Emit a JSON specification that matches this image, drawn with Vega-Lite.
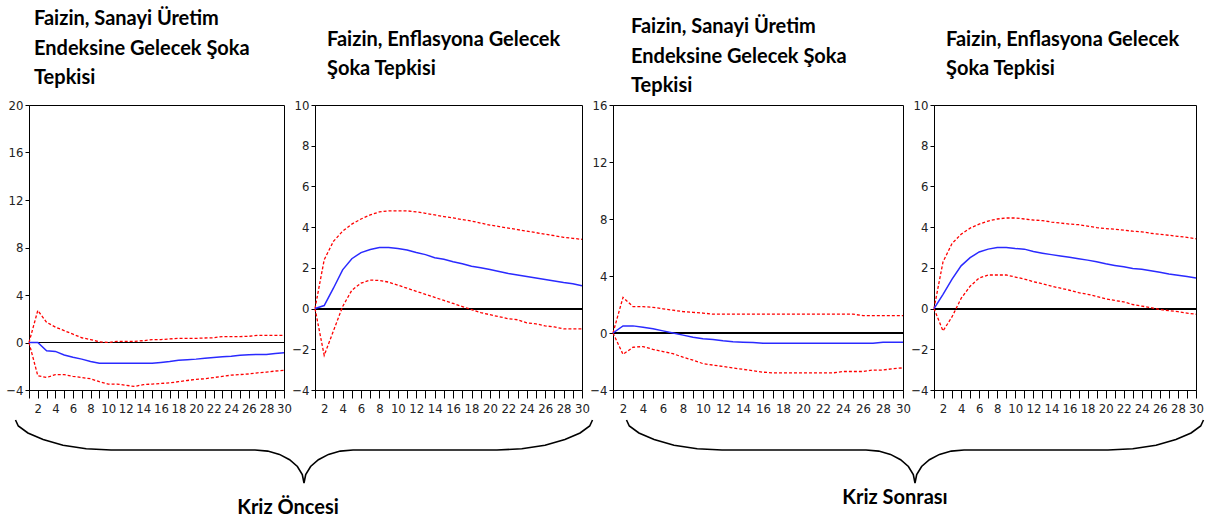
{
  "$schema": "https://vega.github.io/schema/vega-lite/v6.json",
  "padding": {"left": 5, "top": 8, "right": 0, "bottom": 0},
  "background": "white",
  "datasets": {
    "irf": [
      {"p":1,"h":1,"irf":0,"lo":0,"up":0},{"p":1,"h":2,"irf":0,"lo":-2.8,"up":2.7},{"p":1,"h":3,"irf":-0.7,"lo":-2.95,"up":1.7},{"p":1,"h":4,"irf":-0.75,"lo":-2.7,"up":1.3},{"p":1,"h":5,"irf":-1.05,"lo":-2.7,"up":1.0},{"p":1,"h":6,"irf":-1.25,"lo":-2.85,"up":0.7},{"p":1,"h":7,"irf":-1.4,"lo":-2.95,"up":0.4},{"p":1,"h":8,"irf":-1.6,"lo":-3.05,"up":0.25},{"p":1,"h":9,"irf":-1.75,"lo":-3.3,"up":0.05},{"p":1,"h":10,"irf":-1.75,"lo":-3.5,"up":0.0},
      {"p":1,"h":11,"irf":-1.75,"lo":-3.5,"up":0.1},{"p":1,"h":12,"irf":-1.75,"lo":-3.6,"up":0.1},{"p":1,"h":13,"irf":-1.75,"lo":-3.7,"up":0.1},{"p":1,"h":14,"irf":-1.75,"lo":-3.55,"up":0.15},{"p":1,"h":15,"irf":-1.75,"lo":-3.5,"up":0.25},{"p":1,"h":16,"irf":-1.68,"lo":-3.45,"up":0.25},{"p":1,"h":17,"irf":-1.6,"lo":-3.4,"up":0.3},{"p":1,"h":18,"irf":-1.5,"lo":-3.3,"up":0.35},{"p":1,"h":19,"irf":-1.45,"lo":-3.2,"up":0.35},{"p":1,"h":20,"irf":-1.4,"lo":-3.1,"up":0.35},
      {"p":1,"h":21,"irf":-1.33,"lo":-3.05,"up":0.38},{"p":1,"h":22,"irf":-1.27,"lo":-2.95,"up":0.4},{"p":1,"h":23,"irf":-1.2,"lo":-2.85,"up":0.5},{"p":1,"h":24,"irf":-1.15,"lo":-2.75,"up":0.5},{"p":1,"h":25,"irf":-1.08,"lo":-2.7,"up":0.5},{"p":1,"h":26,"irf":-1.03,"lo":-2.65,"up":0.52},{"p":1,"h":27,"irf":-1.0,"lo":-2.55,"up":0.6},{"p":1,"h":28,"irf":-1.0,"lo":-2.5,"up":0.6},{"p":1,"h":29,"irf":-0.92,"lo":-2.4,"up":0.6},{"p":1,"h":30,"irf":-0.87,"lo":-2.35,"up":0.6},
      {"p":2,"h":1,"irf":0,"lo":0,"up":0},{"p":2,"h":2,"irf":0.15,"lo":-2.3,"up":2.4},{"p":2,"h":3,"irf":1.0,"lo":-1.1,"up":3.3},{"p":2,"h":4,"irf":1.9,"lo":0.1,"up":3.8},{"p":2,"h":5,"irf":2.45,"lo":0.9,"up":4.15},{"p":2,"h":6,"irf":2.75,"lo":1.25,"up":4.4},{"p":2,"h":7,"irf":2.9,"lo":1.4,"up":4.6},{"p":2,"h":8,"irf":3.0,"lo":1.38,"up":4.75},{"p":2,"h":9,"irf":3.0,"lo":1.3,"up":4.8},{"p":2,"h":10,"irf":2.95,"lo":1.15,"up":4.8},
      {"p":2,"h":11,"irf":2.88,"lo":1.0,"up":4.8},{"p":2,"h":12,"irf":2.75,"lo":0.85,"up":4.75},{"p":2,"h":13,"irf":2.65,"lo":0.7,"up":4.68},{"p":2,"h":14,"irf":2.5,"lo":0.55,"up":4.6},{"p":2,"h":15,"irf":2.42,"lo":0.4,"up":4.52},{"p":2,"h":16,"irf":2.3,"lo":0.25,"up":4.45},{"p":2,"h":17,"irf":2.2,"lo":0.1,"up":4.37},{"p":2,"h":18,"irf":2.08,"lo":-0.05,"up":4.3},{"p":2,"h":19,"irf":2.0,"lo":-0.2,"up":4.2},{"p":2,"h":20,"irf":1.92,"lo":-0.3,"up":4.1},
      {"p":2,"h":21,"irf":1.82,"lo":-0.4,"up":4.03},{"p":2,"h":22,"irf":1.72,"lo":-0.5,"up":3.95},{"p":2,"h":23,"irf":1.65,"lo":-0.55,"up":3.88},{"p":2,"h":24,"irf":1.57,"lo":-0.7,"up":3.8},{"p":2,"h":25,"irf":1.5,"lo":-0.75,"up":3.73},{"p":2,"h":26,"irf":1.43,"lo":-0.85,"up":3.65},{"p":2,"h":27,"irf":1.36,"lo":-0.9,"up":3.58},{"p":2,"h":28,"irf":1.28,"lo":-1.0,"up":3.5},{"p":2,"h":29,"irf":1.22,"lo":-1.0,"up":3.45},{"p":2,"h":30,"irf":1.12,"lo":-1.0,"up":3.4},
      {"p":3,"h":1,"irf":0,"lo":0,"up":0},{"p":3,"h":2,"irf":0.5,"lo":-1.5,"up":2.5},{"p":3,"h":3,"irf":0.5,"lo":-1.0,"up":1.85},{"p":3,"h":4,"irf":0.4,"lo":-0.95,"up":1.85},{"p":3,"h":5,"irf":0.3,"lo":-1.15,"up":1.8},{"p":3,"h":6,"irf":0.15,"lo":-1.3,"up":1.7},{"p":3,"h":7,"irf":0.0,"lo":-1.45,"up":1.6},{"p":3,"h":8,"irf":-0.15,"lo":-1.7,"up":1.5},{"p":3,"h":9,"irf":-0.3,"lo":-1.9,"up":1.45},{"p":3,"h":10,"irf":-0.4,"lo":-2.15,"up":1.4},
      {"p":3,"h":11,"irf":-0.45,"lo":-2.25,"up":1.32},{"p":3,"h":12,"irf":-0.55,"lo":-2.35,"up":1.32},{"p":3,"h":13,"irf":-0.62,"lo":-2.45,"up":1.32},{"p":3,"h":14,"irf":-0.65,"lo":-2.55,"up":1.32},{"p":3,"h":15,"irf":-0.67,"lo":-2.65,"up":1.32},{"p":3,"h":16,"irf":-0.72,"lo":-2.75,"up":1.32},{"p":3,"h":17,"irf":-0.72,"lo":-2.8,"up":1.32},{"p":3,"h":18,"irf":-0.72,"lo":-2.8,"up":1.32},{"p":3,"h":19,"irf":-0.72,"lo":-2.8,"up":1.32},{"p":3,"h":20,"irf":-0.72,"lo":-2.8,"up":1.32},
      {"p":3,"h":21,"irf":-0.72,"lo":-2.8,"up":1.32},{"p":3,"h":22,"irf":-0.72,"lo":-2.8,"up":1.32},{"p":3,"h":23,"irf":-0.72,"lo":-2.8,"up":1.32},{"p":3,"h":24,"irf":-0.72,"lo":-2.7,"up":1.32},{"p":3,"h":25,"irf":-0.72,"lo":-2.7,"up":1.32},{"p":3,"h":26,"irf":-0.72,"lo":-2.7,"up":1.22},{"p":3,"h":27,"irf":-0.72,"lo":-2.6,"up":1.22},{"p":3,"h":28,"irf":-0.65,"lo":-2.6,"up":1.22},{"p":3,"h":29,"irf":-0.65,"lo":-2.5,"up":1.22},{"p":3,"h":30,"irf":-0.65,"lo":-2.45,"up":1.22},
      {"p":4,"h":1,"irf":0,"lo":0,"up":0},{"p":4,"h":2,"irf":0.7,"lo":-1.1,"up":2.3},{"p":4,"h":3,"irf":1.45,"lo":-0.4,"up":3.2},{"p":4,"h":4,"irf":2.1,"lo":0.5,"up":3.65},{"p":4,"h":5,"irf":2.5,"lo":1.1,"up":3.95},{"p":4,"h":6,"irf":2.78,"lo":1.5,"up":4.15},{"p":4,"h":7,"irf":2.92,"lo":1.65,"up":4.3},{"p":4,"h":8,"irf":3.0,"lo":1.65,"up":4.4},{"p":4,"h":9,"irf":3.0,"lo":1.65,"up":4.45},{"p":4,"h":10,"irf":2.95,"lo":1.55,"up":4.45},
      {"p":4,"h":11,"irf":2.92,"lo":1.45,"up":4.4},{"p":4,"h":12,"irf":2.8,"lo":1.32,"up":4.35},{"p":4,"h":13,"irf":2.72,"lo":1.22,"up":4.32},{"p":4,"h":14,"irf":2.65,"lo":1.1,"up":4.25},{"p":4,"h":15,"irf":2.58,"lo":1.0,"up":4.2},{"p":4,"h":16,"irf":2.52,"lo":0.9,"up":4.15},{"p":4,"h":17,"irf":2.45,"lo":0.78,"up":4.12},{"p":4,"h":18,"irf":2.38,"lo":0.7,"up":4.05},{"p":4,"h":19,"irf":2.3,"lo":0.6,"up":3.98},{"p":4,"h":20,"irf":2.2,"lo":0.48,"up":3.93},
      {"p":4,"h":21,"irf":2.12,"lo":0.4,"up":3.9},{"p":4,"h":22,"irf":2.05,"lo":0.33,"up":3.85},{"p":4,"h":23,"irf":1.97,"lo":0.2,"up":3.8},{"p":4,"h":24,"irf":1.93,"lo":0.12,"up":3.77},{"p":4,"h":25,"irf":1.86,"lo":0.05,"up":3.7},{"p":4,"h":26,"irf":1.78,"lo":-0.05,"up":3.65},{"p":4,"h":27,"irf":1.7,"lo":-0.1,"up":3.6},{"p":4,"h":28,"irf":1.64,"lo":-0.15,"up":3.55},{"p":4,"h":29,"irf":1.57,"lo":-0.22,"up":3.5},{"p":4,"h":30,"irf":1.5,"lo":-0.28,"up":3.43}
    ],
    "brace": [
      {"b":1,"i":1,"u":14.5,"v":418},{"b":1,"i":2,"u":17.3,"v":424},{"b":1,"i":3,"u":26.9,"v":431},{"b":1,"i":4,"u":42.1,"v":437.5},{"b":1,"i":5,"u":62,"v":443.2},{"b":1,"i":6,"u":85.2,"v":446.8},{"b":1,"i":7,"u":110,"v":448},{"b":1,"i":8,"u":254,"v":448},{"b":1,"i":9,"u":266.7,"v":449.1},{"b":1,"i":10,"u":278.5,"v":452.4},{"b":1,"i":11,"u":288.6,"v":457.7},{"b":1,"i":12,"u":296.4,"v":464.5},{"b":1,"i":13,"u":301.3,"v":472.5},{"b":1,"i":14,"u":303,"v":481},
      {"b":1,"i":15,"u":304.7,"v":472.5},{"b":1,"i":16,"u":309.6,"v":464.5},{"b":1,"i":17,"u":317.4,"v":457.7},{"b":1,"i":18,"u":327.5,"v":452.4},{"b":1,"i":19,"u":339.3,"v":449.1},{"b":1,"i":20,"u":352,"v":448},{"b":1,"i":21,"u":496,"v":448},{"b":1,"i":22,"u":520.8,"v":446.8},{"b":1,"i":23,"u":544,"v":443.2},{"b":1,"i":24,"u":563.9,"v":437.5},{"b":1,"i":25,"u":579.1,"v":431},{"b":1,"i":26,"u":588.7,"v":424},{"b":1,"i":27,"u":591.5,"v":418},
      {"b":2,"i":1,"u":625.5,"v":418},{"b":2,"i":2,"u":628.3,"v":424},{"b":2,"i":3,"u":637.9,"v":431},{"b":2,"i":4,"u":653.1,"v":437.5},{"b":2,"i":5,"u":673,"v":443.2},{"b":2,"i":6,"u":696.2,"v":446.8},{"b":2,"i":7,"u":721,"v":448},{"b":2,"i":8,"u":865,"v":448},{"b":2,"i":9,"u":877.7,"v":449.1},{"b":2,"i":10,"u":889.5,"v":452.4},{"b":2,"i":11,"u":899.6,"v":457.7},{"b":2,"i":12,"u":907.4,"v":464.5},{"b":2,"i":13,"u":912.3,"v":472.5},{"b":2,"i":14,"u":914,"v":481},
      {"b":2,"i":15,"u":915.7,"v":472.5},{"b":2,"i":16,"u":920.6,"v":464.5},{"b":2,"i":17,"u":928.4,"v":457.7},{"b":2,"i":18,"u":938.5,"v":452.4},{"b":2,"i":19,"u":950.3,"v":449.1},{"b":2,"i":20,"u":963,"v":448},{"b":2,"i":21,"u":1107,"v":448},{"b":2,"i":22,"u":1131.8,"v":446.8},{"b":2,"i":23,"u":1155,"v":443.2},{"b":2,"i":24,"u":1174.9,"v":437.5},{"b":2,"i":25,"u":1190.1,"v":431},{"b":2,"i":26,"u":1199.7,"v":424},{"b":2,"i":27,"u":1202.5,"v":418}
    ],
    "labels": [
      {"t":"Kriz Öncesi","u":287,"v":506},
      {"t":"Kriz Sonrası","u":894,"v":496}
    ]
  },
  "vconcat": [
    {
      "hconcat": [
        {
          "width": 255, "height": 285,
          "title": {"text": ["Faizin, Sanayi Üretim", "Endeksine Gelecek Şoka", "Tepkisi"], "dx": 5, "offset": 11},
          "data": {"name": "irf"},
          "transform": [{"filter": "datum.p == 1"}],
          "encoding": {
            "x": {"field": "h", "type": "quantitative", "scale": {"domain": [1, 30], "nice": false, "zero": false}, "axis": {"title": null, "values": [1,2,3,4,5,6,7,8,9,10,11,12,13,14,15,16,17,18,19,20,21,22,23,24,25,26,27,28,29,30], "labelExpr": "datum.value % 2 == 0 ? datum.label : ''"}}
          },
          "layer": [
            {"mark": {"type": "rule", "color": "#000", "strokeWidth": 1.2}, "encoding": {"x": {"datum": 1, "type": "quantitative"}, "x2": {"datum": 30}, "y": {"datum": 0, "type": "quantitative"}}},
            {"mark": {"type": "line", "color": "#ff0000", "strokeDash": [3, 2], "strokeWidth": 1.3}, "encoding": {"y": {"field": "up", "type": "quantitative", "scale": {"domain": [-4, 20], "nice": false, "zero": false}, "axis": {"title": null, "values": [-4, 0, 4, 8, 12, 16, 20]}}}},
            {"mark": {"type": "line", "color": "#ff0000", "strokeDash": [3, 2], "strokeWidth": 1.3}, "encoding": {"y": {"field": "lo", "type": "quantitative"}}},
            {"mark": {"type": "line", "color": "#2a2aff", "strokeWidth": 1.5}, "encoding": {"y": {"field": "irf", "type": "quantitative"}}}
          ]
        },
        {
          "width": 267, "height": 285,
          "title": {"text": ["Faizin, Enflasyona Gelecek", "Şoka Tepkisi"], "dx": 12, "offset": 20},
          "data": {"name": "irf"},
          "transform": [{"filter": "datum.p == 2"}],
          "encoding": {
            "x": {"field": "h", "type": "quantitative", "scale": {"domain": [1, 30], "nice": false, "zero": false}, "axis": {"title": null, "values": [1,2,3,4,5,6,7,8,9,10,11,12,13,14,15,16,17,18,19,20,21,22,23,24,25,26,27,28,29,30], "labelExpr": "datum.value % 2 == 0 ? datum.label : ''"}}
          },
          "layer": [
            {"mark": {"type": "rule", "color": "#000", "strokeWidth": 1.2}, "encoding": {"x": {"datum": 1, "type": "quantitative"}, "x2": {"datum": 30}, "y": {"datum": 0, "type": "quantitative"}}},
            {"mark": {"type": "line", "color": "#ff0000", "strokeDash": [3, 2], "strokeWidth": 1.3}, "encoding": {"y": {"field": "up", "type": "quantitative", "scale": {"domain": [-4, 10], "nice": false, "zero": false}, "axis": {"title": null, "values": [-4, -2, 0, 2, 4, 6, 8, 10]}}}},
            {"mark": {"type": "line", "color": "#ff0000", "strokeDash": [3, 2], "strokeWidth": 1.3}, "encoding": {"y": {"field": "lo", "type": "quantitative"}}},
            {"mark": {"type": "line", "color": "#2a2aff", "strokeWidth": 1.5}, "encoding": {"y": {"field": "irf", "type": "quantitative"}}}
          ]
        },
        {
          "width": 290, "height": 285,
          "title": {"text": ["Faizin, Sanayi Üretim", "Endeksine Gelecek Şoka", "Tepkisi"], "dx": 18, "offset": 3},
          "data": {"name": "irf"},
          "transform": [{"filter": "datum.p == 3"}],
          "encoding": {
            "x": {"field": "h", "type": "quantitative", "scale": {"domain": [1, 30], "nice": false, "zero": false}, "axis": {"title": null, "values": [1,2,3,4,5,6,7,8,9,10,11,12,13,14,15,16,17,18,19,20,21,22,23,24,25,26,27,28,29,30], "labelExpr": "datum.value % 2 == 0 ? datum.label : ''"}}
          },
          "layer": [
            {"mark": {"type": "rule", "color": "#000", "strokeWidth": 1.2}, "encoding": {"x": {"datum": 1, "type": "quantitative"}, "x2": {"datum": 30}, "y": {"datum": 0, "type": "quantitative"}}},
            {"mark": {"type": "line", "color": "#ff0000", "strokeDash": [3, 2], "strokeWidth": 1.3}, "encoding": {"y": {"field": "up", "type": "quantitative", "scale": {"domain": [-4, 16], "nice": false, "zero": false}, "axis": {"title": null, "values": [-4, 0, 4, 8, 12, 16]}}}},
            {"mark": {"type": "line", "color": "#ff0000", "strokeDash": [3, 2], "strokeWidth": 1.3}, "encoding": {"y": {"field": "lo", "type": "quantitative"}}},
            {"mark": {"type": "line", "color": "#2a2aff", "strokeWidth": 1.5}, "encoding": {"y": {"field": "irf", "type": "quantitative"}}}
          ]
        },
        {
          "width": 262, "height": 285,
          "title": {"text": ["Faizin, Enflasyona Gelecek", "Şoka Tepkisi"], "dx": 12, "offset": 20},
          "data": {"name": "irf"},
          "transform": [{"filter": "datum.p == 4"}],
          "encoding": {
            "x": {"field": "h", "type": "quantitative", "scale": {"domain": [1, 30], "nice": false, "zero": false}, "axis": {"title": null, "values": [1,2,3,4,5,6,7,8,9,10,11,12,13,14,15,16,17,18,19,20,21,22,23,24,25,26,27,28,29,30], "labelExpr": "datum.value % 2 == 0 ? datum.label : ''"}}
          },
          "layer": [
            {"mark": {"type": "rule", "color": "#000", "strokeWidth": 1.2}, "encoding": {"x": {"datum": 1, "type": "quantitative"}, "x2": {"datum": 30}, "y": {"datum": 0, "type": "quantitative"}}},
            {"mark": {"type": "line", "color": "#ff0000", "strokeDash": [3, 2], "strokeWidth": 1.3}, "encoding": {"y": {"field": "up", "type": "quantitative", "scale": {"domain": [-4, 10], "nice": false, "zero": false}, "axis": {"title": null, "values": [-4, -2, 0, 2, 4, 6, 8, 10]}}}},
            {"mark": {"type": "line", "color": "#ff0000", "strokeDash": [3, 2], "strokeWidth": 1.3}, "encoding": {"y": {"field": "lo", "type": "quantitative"}}},
            {"mark": {"type": "line", "color": "#2a2aff", "strokeWidth": 1.5}, "encoding": {"y": {"field": "irf", "type": "quantitative"}}}
          ]
        }
      ],
      "spacing": 31,
      "bounds": "flush"
    },
    {
      "width": 1180, "height": 102,
      "view": {"stroke": null},
      "layer": [
        {
          "data": {"name": "brace"},
          "mark": {"type": "line", "color": "#000", "strokeWidth": 1.6},
          "encoding": {
            "x": {"field": "u", "type": "quantitative", "scale": {"domain": [28, 1208], "nice": false, "zero": false}, "axis": null},
            "y": {"field": "v", "type": "quantitative", "scale": {"domain": [418, 520], "nice": false, "zero": false, "reverse": true}, "axis": null},
            "detail": {"field": "b"},
            "order": {"field": "i"}
          }
        },
        {
          "data": {"name": "labels"},
          "mark": {"type": "text", "font": "Lato", "fontWeight": "bold", "fontSize": 20, "color": "#000", "align": "center", "baseline": "middle"},
          "encoding": {
            "x": {"field": "u", "type": "quantitative"},
            "y": {"field": "v", "type": "quantitative"},
            "text": {"field": "t"}
          }
        }
      ]
    }
  ],
  "spacing": 0,
  "config": {
    "view": {"stroke": "#000", "strokeWidth": 1},
    "axis": {"domainColor": "#000", "tickColor": "#000", "labelColor": "#222", "labelFont": "Liberation Sans Narrow, DejaVu Sans Condensed, Arial Narrow, sans-serif", "labelFontSize": 13, "grid": false, "labelFlush": false, "labelOverlap": false},
    "axisX": {"tickSize": 8, "labelPadding": 4},
    "axisY": {"tickSize": 4, "labelPadding": 2},
    "title": {"anchor": "start", "font": "Lato", "fontSize": 20, "fontWeight": "bold", "lineHeight": 29.5, "color": "#000", "frame": "group"}
  }
}
